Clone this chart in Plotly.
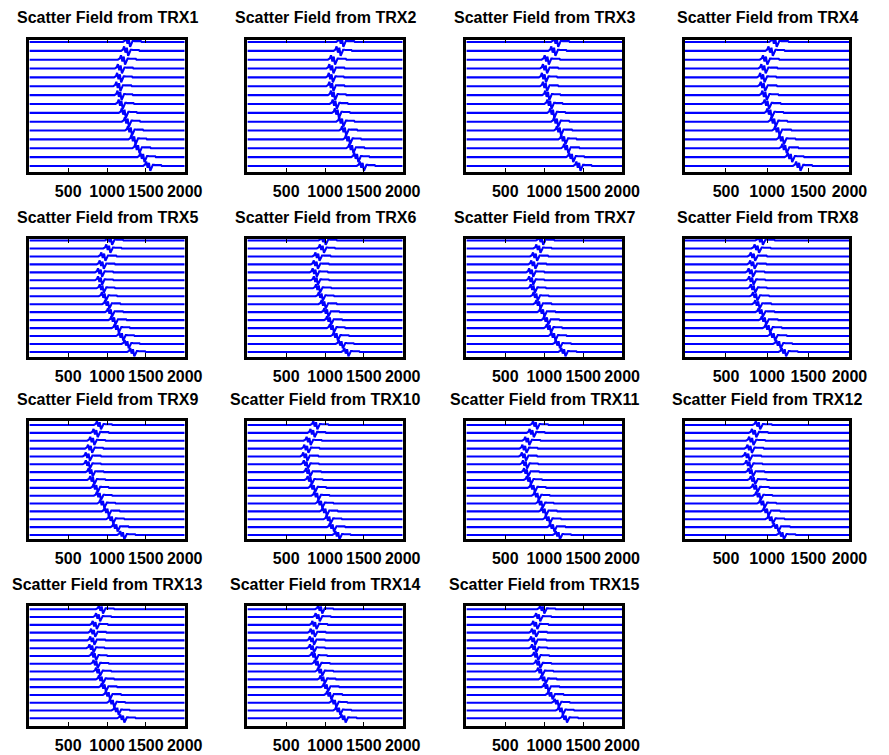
import plotly.graph_objects as go

# ---------------- data ----------------
titles = [f"Scatter Field from TRX{i}" for i in range(1, 16)]

# arrival time (sample index) of the scattered pulse on each of the 15 traces, top to bottom
arrivals_trx1 = [1275, 1250, 1210, 1170, 1160, 1150, 1165, 1180, 1220, 1260, 1300, 1345, 1395, 1460, 1535]
arrivals_trx2 = [1214, 1179, 1107, 1086, 1079, 1086, 1107, 1129, 1157, 1214, 1250, 1300, 1343, 1407, 1479]
arrivals_trx3 = [1157, 1121, 1036, 1014, 1000, 1014, 1043, 1071, 1107, 1157, 1193, 1250, 1286, 1350, 1443]
arrivals_trx4 = [1094, 1047, 980, 960, 946, 953, 973, 1000, 1034, 1081, 1128, 1181, 1215, 1282, 1383]
arrivals_trx5 = [1043, 1021, 957, 936, 914, 914, 936, 964, 1007, 1043, 1086, 1129, 1186, 1257, 1329]
arrivals_trx6 = [986, 964, 907, 886, 871, 886, 914, 950, 986, 1021, 1057, 1093, 1143, 1207, 1279]
arrivals_trx7 = [964, 929, 886, 864, 836, 836, 857, 893, 929, 979, 1029, 1064, 1121, 1179, 1250]
arrivals_trx8 = [926, 879, 832, 825, 805, 812, 832, 859, 886, 926, 966, 1013, 1074, 1141, 1208]
arrivals_trx9 = [900, 857, 814, 786, 757, 757, 793, 814, 857, 900, 943, 1000, 1057, 1114, 1200]
arrivals_trx10 = [879, 843, 793, 764, 750, 757, 786, 807, 850, 893, 943, 1000, 1050, 1093, 1164]
arrivals_trx11 = [886, 843, 786, 750, 743, 757, 771, 807, 857, 907, 957, 1000, 1050, 1107, 1179]
arrivals_trx12 = [893, 846, 812, 792, 765, 778, 805, 832, 859, 899, 946, 993, 1047, 1114, 1181]
arrivals_trx13 = [926, 889, 846, 825, 815, 804, 836, 857, 889, 926, 963, 1016, 1069, 1127, 1201]
arrivals_trx14 = [942, 910, 868, 846, 836, 836, 862, 899, 942, 973, 1016, 1058, 1122, 1174, 1243]
arrivals_trx15 = [979, 926, 889, 873, 862, 873, 899, 926, 952, 995, 1032, 1084, 1164, 1217, 1270]

all_arrivals = [arrivals_trx1, arrivals_trx2, arrivals_trx3, arrivals_trx4, arrivals_trx5,
                arrivals_trx6, arrivals_trx7, arrivals_trx8, arrivals_trx9, arrivals_trx10,
                arrivals_trx11, arrivals_trx12, arrivals_trx13, arrivals_trx14, arrivals_trx15]

# pulse shape (offset in samples from the arrival, amplitude in trace spacings)
wavelet_offsets = [-70, -45, -30, -12, 5, 22, 40, 55, 70, 80, 160, 170]
wavelet_amps = [0.0, 0.15, 0.5, -0.2, 0.35, -0.55, -0.15, 0.12, 0.12, 0.1, 0.1, 0.0]

n_samples = 2000
tick_values = [500, 1000, 1500, 2000]

# ---------------- layout geometry (pixels of the 889x755 page) ----------------
W, H = 889, 755
col_px = [(30, 188.5), (252.5, 411), (476, 635), (699, 867)]
row_px = [(39.5, 172), (239, 357), (421, 539), (606, 726)]
row_yrange = [(15.68, 0.72), (15.63, 0.81), (15.51, 0.49), (15.99, 0.58)]

fig = go.Figure()
layout = dict(
    width=W, height=H, margin=dict(l=0, r=0, t=0, b=0),
    paper_bgcolor="white", plot_bgcolor="white", showlegend=False,
)
annotations = []

for k, arr in enumerate(all_arrivals):
    r, c = divmod(k, 4)
    idx = "" if k == 0 else str(k + 1)
    xa, ya = "x" + idx, "y" + idx
    for i, t0 in enumerate(arr):
        base = i + 1
        xs = [0] + [t0 + o for o in wavelet_offsets] + [n_samples]
        ys = [base] + [base - a for a in wavelet_amps] + [base]
        fig.add_trace(go.Scatter(x=xs, y=ys, mode="lines",
                                 line=dict(color="#0000FF", width=2.1),
                                 xaxis=xa, yaxis=ya, hoverinfo="skip"))
    x0, x1 = col_px[c]
    y0, y1 = row_px[r]
    layout["xaxis" + idx] = dict(
        domain=[x0 / W, x1 / W], range=[0, n_samples], anchor=ya,
        tickvals=tick_values, ticktext=[str(v) for v in tick_values],
        ticks="inside", ticklen=4, tickwidth=1, tickcolor="black",
        showline=True, linewidth=2.5, linecolor="black", mirror="ticks",
        showgrid=False, zeroline=False, ticklabelstandoff=3,
        tickfont=dict(family="Liberation Sans, Arial, sans-serif", size=16,
                      color="black", weight="bold"),
    )
    layout["yaxis" + idx] = dict(
        domain=[1 - y1 / H, 1 - y0 / H], range=list(row_yrange[r]), anchor=xa,
        showticklabels=False, ticks="", showline=True, linewidth=2.5,
        linecolor="black", mirror=True, showgrid=False, zeroline=False,
    )
    annotations.append(dict(
        text=titles[k], xref="paper", yref="paper",
        x=(x0 + x1) / 2 / W, y=1 - (y0 - 22) / H,
        xanchor="center", yanchor="middle", showarrow=False,
        font=dict(family="Liberation Sans, Arial, sans-serif",
                  size=16, color="black", weight="bold"),
    ))

layout["annotations"] = annotations
fig.update_layout(**layout)
fig.write_html("out.html")
